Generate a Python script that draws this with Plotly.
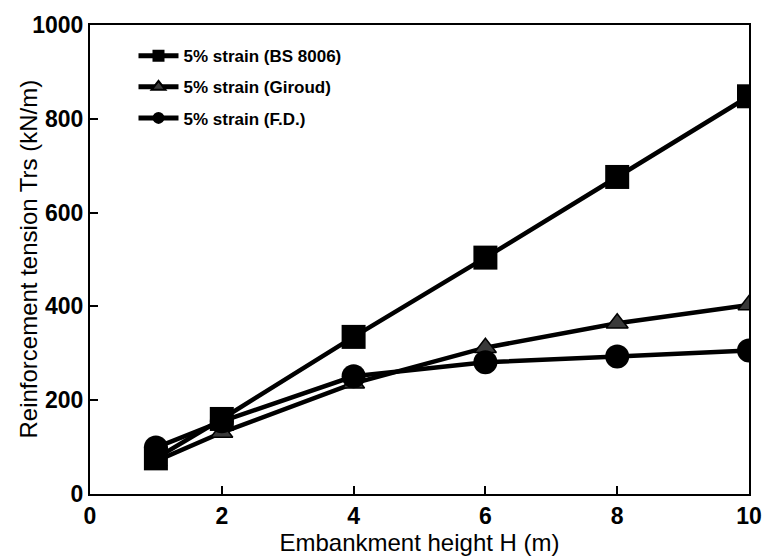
import plotly.graph_objects as go

heights = [1, 2, 4, 6, 8, 10]
bs8006 = [76, 160, 335, 504, 676, 848]
giroud = [70, 131, 236, 312, 364, 403]
fd = [99, 155, 251, 281, 293, 306]

x_ticks = [0, 2, 4, 6, 8, 10]
y_ticks = [0, 200, 400, 600, 800, 1000]

x_title = "Embankment height H (m)"
y_title = "Reinforcement tension Trs (kN/m)"

font_family = "Liberation Sans, Arial, sans-serif"

fig = go.Figure()
# draw order: giroud under fd under bs
fig.add_trace(go.Scatter(
    x=heights, y=giroud, mode="lines+markers", name="5% strain (Giroud)",
    legendgroup="b", legendrank=2,
    line=dict(color="black", width=4.5),
    marker=dict(symbol="triangle-up", size=19, color="#3a3a3a", line=dict(color="black", width=1.5)),
))
fig.add_trace(go.Scatter(
    x=heights, y=fd, mode="lines+markers", name="5% strain (F.D.)",
    legendgroup="c", legendrank=3,
    line=dict(color="black", width=4.5),
    marker=dict(symbol="circle", size=24, color="black"),
))
fig.add_trace(go.Scatter(
    x=heights, y=bs8006, mode="lines+markers", name="5% strain (BS 8006)",
    legendgroup="a", legendrank=1,
    line=dict(color="black", width=4.5),
    marker=dict(symbol="square", size=24, color="black"),
))

fig.update_layout(
    width=774, height=557,
    margin=dict(l=90, r=21, t=20, b=63),
    paper_bgcolor="white", plot_bgcolor="white",
    font=dict(family=font_family, color="black", size=18),
    showlegend=True,
    legend=dict(
        x=0.066, y=0.972, xanchor="left", yanchor="top",
        bgcolor="rgba(0,0,0,0)", font=dict(size=17, weight="bold"),
        traceorder="grouped", tracegroupgap=6, itemwidth=40, itemsizing="constant",
    ),
    xaxis=dict(
        range=[0, 10], tickvals=x_ticks, ticktext=[str(v) for v in x_ticks],
        showgrid=False, zeroline=False, showline=True, linecolor="black", linewidth=2,
        mirror=True, ticks="inside", ticklen=8, tickwidth=1.5, tickcolor="black",
        tickfont=dict(size=23, weight="bold"),
        title=dict(text=x_title, font=dict(size=24), standoff=0),
    ),
    yaxis=dict(
        range=[0, 1000], tickvals=y_ticks, ticktext=[str(v) for v in y_ticks],
        showgrid=False, zeroline=False, showline=True, linecolor="black", linewidth=2,
        mirror=True, ticks="inside", ticklen=8, tickwidth=1.5, tickcolor="black",
        tickfont=dict(size=23, weight="bold"),
    ),
    annotations=[dict(
        text=y_title, textangle=-90, showarrow=False,
        xref="paper", yref="paper", x=-0.094, y=0.5,
        xanchor="center", yanchor="middle",
        font=dict(size=24, family=font_family, color="black"),
    )],
)

fig.write_html(
    "out.html",
    config={"displayModeBar": False},
    post_script="document.body.style.margin='0';document.body.style.overflow='hidden';",
)
